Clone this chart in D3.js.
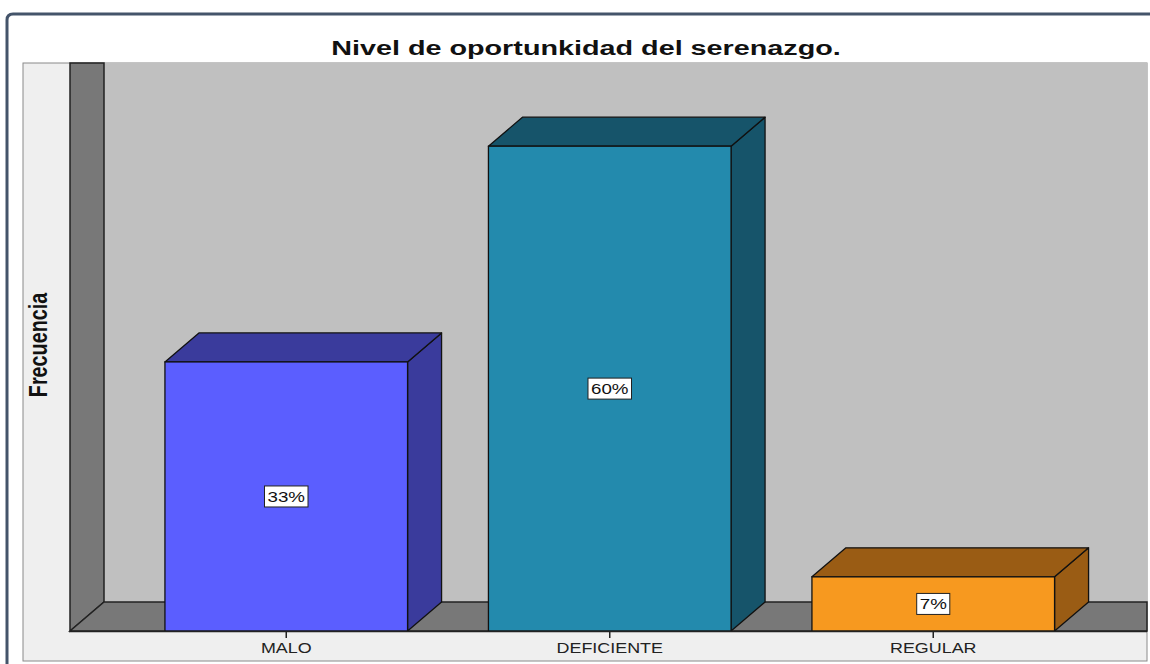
<!DOCTYPE html>
<html>
<head>
<meta charset="utf-8">
<script src="https://cdn.jsdelivr.net/npm/d3@7.9.0/dist/d3.min.js"></script>
<style>
  body { margin: 0; background: #fff; }
  svg { display: block; }
</style>
</head>
<body>
<svg id="chart" width="1150" height="664"></svg>
<script>
// data
const categories = ["MALO", "DEFICIENTE", "REGULAR"];
const percents = [33.3, 60.0, 6.7];
const valueLabels = ["33%", "60%", "7%"];
const frontColors = ["#5b5eff", "#238aad", "#f7991f"];
const darkColors = ["#3a3b9c", "#16546a", "#9a5c14"];

const W = 1150, H = 664;
const depthX = 34, depthY = 29;
const plot = { left: 70, right: 1147, top: 63, bottom: 631 };
const font = "Liberation Sans, Arial, sans-serif";

const svg = d3.select("#chart");

// outer frame
svg.append("path")
  .attr("d", `M7,${H + 5} L7,20 Q7,14 13,14 L${W + 5},14`)
  .attr("fill", "none")
  .attr("stroke", "#44546a")
  .attr("stroke-width", 3);

// title (stretched wide like the original export)
svg.append("text")
  .attr("transform", "translate(586,55) scale(1.37,1)")
  .attr("text-anchor", "middle")
  .attr("font-family", font)
  .attr("font-weight", "bold")
  .attr("font-size", 21)
  .attr("fill", "#111")
  .text("Nivel de oportunkidad del serenazgo.");

// light panel (axis area)
svg.append("rect")
  .attr("x", 23).attr("y", plot.top)
  .attr("width", plot.right - 23).attr("height", 661 - plot.top)
  .attr("fill", "#efefef")
  .attr("stroke", "#8a8a8a")
  .attr("stroke-width", 1);

// scales
const x = d3.scaleBand()
  .domain(categories)
  .range([124.5, 1095])
  .paddingInner(0.25)
  .paddingOuter(0.125);

const y = d3.scaleLinear()
  .domain([0, 70])
  .range([plot.bottom, plot.bottom - 70 * 8.08]);

// back wall
svg.append("rect")
  .attr("x", plot.left + depthX).attr("y", plot.top)
  .attr("width", plot.right - plot.left - depthX)
  .attr("height", plot.bottom - depthY - plot.top)
  .attr("fill", "#c0c0c0");

// left wall
svg.append("path")
  .attr("d", `M${plot.left},${plot.top} L${plot.left + depthX},${plot.top} L${plot.left + depthX},${plot.bottom - depthY} L${plot.left},${plot.bottom} Z`)
  .attr("fill", "#787878")
  .attr("stroke", "#222")
  .attr("stroke-width", 1.5);

// floor
svg.append("path")
  .attr("d", `M${plot.left},${plot.bottom} L${plot.left + depthX},${plot.bottom - depthY} L${plot.right},${plot.bottom - depthY} L${plot.right},${plot.bottom} Z`)
  .attr("fill", "#787878")
  .attr("stroke", "#222")
  .attr("stroke-width", 1.5);

// bars
const bars = svg.selectAll("g.bar")
  .data(categories.map((c, i) => ({ cat: c, value: percents[i], label: valueLabels[i], front: frontColors[i], dark: darkColors[i] })))
  .join("g")
  .attr("class", "bar");

bars.append("path") // side
  .attr("d", d => {
    const x1 = x(d.cat) + x.bandwidth(), yt = y(d.value), yb = y(0);
    return `M${x1},${yt} L${x1 + depthX},${yt - depthY} L${x1 + depthX},${yb - depthY} L${x1},${yb} Z`;
  })
  .attr("fill", d => d.dark)
  .attr("stroke", "#111").attr("stroke-width", 1.3).attr("stroke-linejoin", "round");

bars.append("path") // top
  .attr("d", d => {
    const x0 = x(d.cat), x1 = x0 + x.bandwidth(), yt = y(d.value);
    return `M${x0},${yt} L${x0 + depthX},${yt - depthY} L${x1 + depthX},${yt - depthY} L${x1},${yt} Z`;
  })
  .attr("fill", d => d.dark)
  .attr("stroke", "#111").attr("stroke-width", 1.3).attr("stroke-linejoin", "round");

bars.append("rect") // front
  .attr("x", d => x(d.cat))
  .attr("y", d => y(d.value))
  .attr("width", x.bandwidth())
  .attr("height", d => y(0) - y(d.value))
  .attr("fill", d => d.front)
  .attr("stroke", "#111").attr("stroke-width", 1.3);

// value labels in white boxes
bars.each(function(d) {
  const g = d3.select(this);
  const cx = x(d.cat) + x.bandwidth() / 2;
  const cy = (y(d.value) + y(0)) / 2;
  const sx = 1.25;
  const box = g.append("rect");
  const t = g.append("text")
    .attr("transform", `translate(${cx},${cy + 5.5}) scale(${sx},1)`)
    .attr("text-anchor", "middle")
    .attr("font-family", font)
    .attr("font-size", 15)
    .attr("fill", "#111")
    .text(d.label);
  const w = t.node().getBBox().width * sx;
  box.attr("x", cx - w / 2 - 3).attr("y", cy - 10.5)
    .attr("width", w + 6).attr("height", 21)
    .attr("fill", "#fff")
    .attr("stroke", "#222").attr("stroke-width", 1);
});

// x axis
const axis = svg.append("g")
  .attr("transform", `translate(0,${plot.bottom})`)
  .call(d3.axisBottom(x).tickSize(7).tickPadding(4));
axis.select(".domain")
  .attr("d", `M${plot.left},0.5H${plot.right}`)
  .attr("stroke", "#222").attr("stroke-width", 1.5);
axis.selectAll(".tick line").attr("stroke", "#222").attr("stroke-width", 1.5);
axis.selectAll(".tick text")
  .attr("transform", "scale(1.28,1)")
  .attr("y", 12)
  .attr("font-family", font)
  .attr("font-size", 14)
  .attr("fill", "#222");

// y axis title (narrow, heavy)
svg.append("text")
  .attr("transform", "translate(47,345) rotate(-90) scale(0.76,1)")
  .attr("text-anchor", "middle")
  .attr("font-family", font)
  .attr("font-weight", "bold")
  .attr("font-size", 26)
  .attr("fill", "#111")
  .text("Frecuencia");
</script>
</body>
</html>
